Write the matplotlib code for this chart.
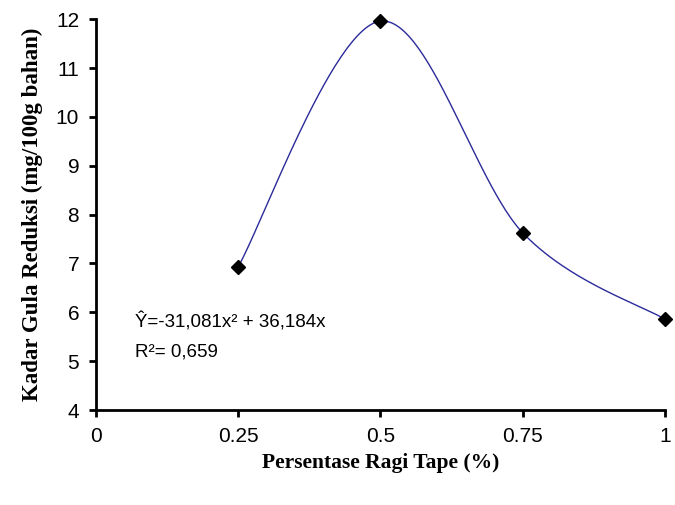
import numpy as np
import matplotlib
matplotlib.use("Agg")
import matplotlib.pyplot as plt

# data
ragi = [0.25, 0.5, 0.75, 1.0]
gula = [6.93, 11.96, 7.63, 5.86]

x_ticks = [0, 0.25, 0.5, 0.75, 1]
x_labels = ["0", "0.25", "0.5", "0.75", "1"]
y_ticks = [4, 5, 6, 7, 8, 9, 10, 11, 12]


def smooth(xs, ys, n=60):
    # Excel-style smoothed line (bezier through points, tangent/6)
    xs = np.asarray(xs, float)
    ys = np.asarray(ys, float)
    px = np.concatenate([[xs[0]], xs, [xs[-1]]])
    py = np.concatenate([[ys[0]], ys, [ys[-1]]])
    outx, outy = [], []
    t = np.linspace(0, 1, n)
    for i in range(1, len(px) - 2):
        p0 = np.array([px[i], py[i]])
        p3 = np.array([px[i + 1], py[i + 1]])
        p1 = p0 + (np.array([px[i + 1], py[i + 1]]) - np.array([px[i - 1], py[i - 1]])) / 6
        p2 = p3 - (np.array([px[i + 2], py[i + 2]]) - np.array([px[i], py[i]])) / 6
        b = ((1 - t) ** 3)[:, None] * p0 + (3 * (1 - t) ** 2 * t)[:, None] * p1 \
            + (3 * (1 - t) * t ** 2)[:, None] * p2 + (t ** 3)[:, None] * p3
        outx.extend(b[:, 0])
        outy.extend(b[:, 1])
    return outx, outy


plt.rcParams['font.family'] = ['Liberation Sans', 'DejaVu Sans']

fig = plt.figure(figsize=(6.75, 5.05), dpi=100)
ax = fig.add_axes([0.142, 0.188, 0.843, 0.774])

sx, sy = smooth(ragi, gula)
ax.plot(sx, sy, color='#2b2b9b', linewidth=1.0, zorder=2)
ax.plot(ragi, gula, linestyle='none', marker='D', markersize=7,
        color='black', zorder=3, clip_on=False)

ax.set_xlim(0, 1)
ax.set_ylim(4, 12)
ax.set_xticks(x_ticks)
ax.set_xticklabels(x_labels)
ax.set_yticks(y_ticks)

for s in ['top', 'right']:
    ax.spines[s].set_visible(False)
for s in ['left', 'bottom']:
    ax.spines[s].set_linewidth(2)
ax.tick_params(direction='out', length=5, width=2, labelsize=15, pad=7)

ax.text(0.068, 5.7, "Ŷ=-31,081x² + 36,184x", fontsize=13.5)
ax.text(0.068, 5.1, "R²= 0,659", fontsize=13.5)

ax.set_ylabel("Kadar Gula Reduksi (mg/100g bahan)", family='Liberation Serif',
              fontweight='bold', fontsize=16.5, labelpad=9)
ax.set_xlabel("Persentase Ragi Tape (%)", family='Liberation Serif',
              fontweight='bold', fontsize=15.5, labelpad=5)

fig.savefig("out.png", dpi=100)
